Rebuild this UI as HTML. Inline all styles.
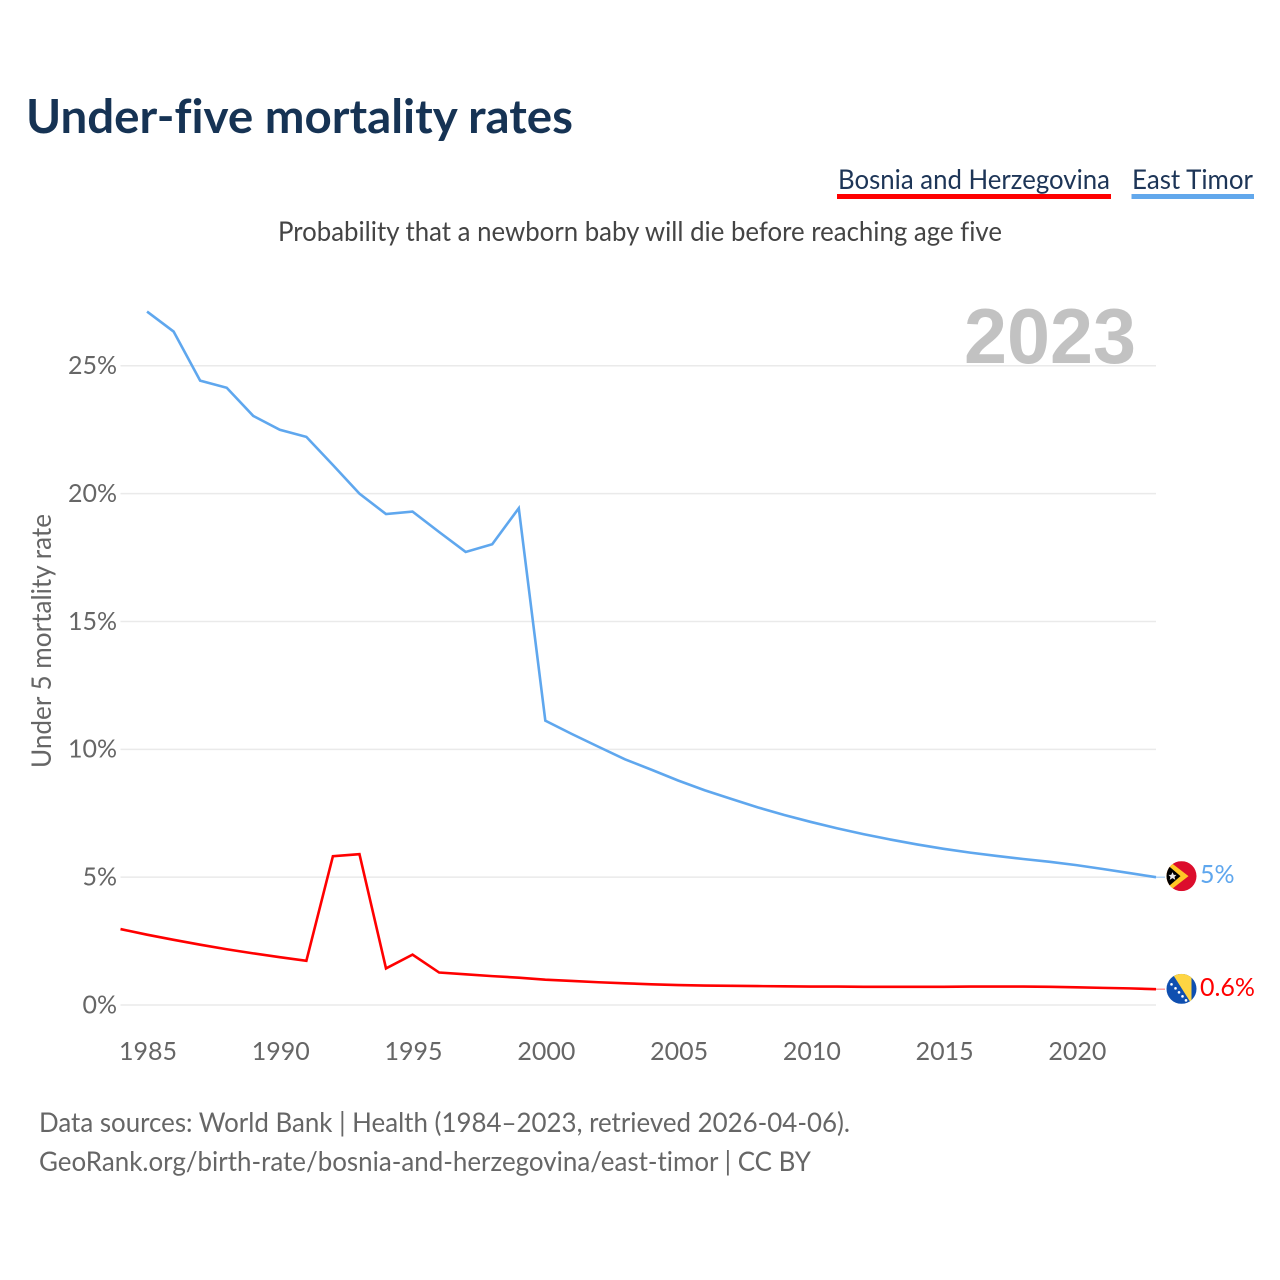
<!DOCTYPE html>
<html lang="en">
<head>
<meta charset="utf-8">
<title>Under-five mortality rates</title>
<style>
html,body{margin:0;padding:0;background:#fff;}
svg{display:block;font-family:"Lato","Carlito","Liberation Sans",sans-serif;font-variant-ligatures:none;}
</style>
</head>
<body>
<svg id="chart" xmlns="http://www.w3.org/2000/svg" width="1280" height="1280" viewBox="0 0 1280 1280">
  <defs>
    <clipPath id="clip-tl"><circle cx="0" cy="0" r="15"/></clipPath>
    <clipPath id="clip-ba"><circle cx="0" cy="0" r="15"/></clipPath>
  </defs>
  <rect width="1280" height="1280" fill="#fff"/>
  <text x="26" y="133" font-size="46.500" font-weight="700" fill="#163354" textLength="547" lengthAdjust="spacingAndGlyphs">Under-five mortality rates</text>

  <g>
    <text x="838" y="189" font-size="27.500" fill="#1d3557" textLength="272" lengthAdjust="spacingAndGlyphs">Bosnia and Herzegovina</text>
    <rect x="837" y="194" width="274" height="5" fill="#ff0000"/>
  </g>
  <g>
    <text x="1132" y="189" font-size="27.500" fill="#1d3557" textLength="121" lengthAdjust="spacingAndGlyphs">East Timor</text>
    <rect x="1131.500" y="194" width="122.500" height="5" fill="#62a8ec"/>
  </g>

  <text x="278" y="241" font-size="27.500" fill="#444" textLength="724" lengthAdjust="spacingAndGlyphs">Probability that a newborn baby will die before reaching age five</text>

  <g id="grid"></g>
  <text x="964" y="363" font-size="78" font-weight="700" fill="#c2c2c2" style='font-family:"Liberation Sans",sans-serif' textLength="172" lengthAdjust="spacingAndGlyphs">2023</text>
  <g id="yticks"></g>
  <g id="xticks"></g>
  <text transform="translate(51,768) rotate(-90)" x="0" y="0" font-size="27" fill="#666" textLength="254" lengthAdjust="spacingAndGlyphs">Under 5 mortality rate</text>

  <g id="series"></g>

  <g id="flag-tl">
    <g clip-path="url(#clip-tl)">
      <rect x="-15" y="-15" width="30" height="30" fill="#dc0d2c"/>
      <polygon points="-15,-17 7,0 -15,17" fill="#ffc726"/>
      <polygon points="-15,-12 -1,0 -15,12" fill="#000"/>
      <polygon points="-9,-4 -7.700,-1.300 -5,-1.300 -7,0.700 -6.200,3.700 -9,2 -11.800,3.700 -11,0.700 -13,-1.300 -10.300,-1.300" fill="#e8e8e8"/>
    </g>
  </g>
  <g id="flag-ba">
    <g clip-path="url(#clip-ba)">
      <rect x="-15" y="-15" width="30" height="30" fill="#0f4fb0"/>
      <polygon points="-9,-15 10,-15 10,15" fill="#fed543"/>
      <polygon points="-15,-8.500 -12.800,-8 -13.500,-6" fill="#fff"/>
      <circle cx="-10" cy="-4.500" r="1.300" fill="#fff"/>
      <circle cx="-6" cy="-0.500" r="1.300" fill="#fff"/>
      <circle cx="-2.500" cy="3.500" r="1.300" fill="#fff"/>
      <circle cx="1" cy="7.500" r="1.300" fill="#fff"/>
      <circle cx="4.500" cy="11.500" r="1.300" fill="#fff"/>
    </g>
  </g>
  <g id="end-labels"></g>

  <text x="39" y="1132" font-size="27.500" fill="#666" textLength="811" lengthAdjust="spacingAndGlyphs">Data sources: World Bank | Health (1984–2023, retrieved 2026-04-06).</text>
  <text x="39" y="1171" font-size="27.500" fill="#666" textLength="772" lengthAdjust="spacingAndGlyphs">GeoRank.org/birth-rate/bosnia-and-herzegovina/east-timor | CC BY</text>
</svg>
<script>
const years = [1984,1985,1986,1987,1988,1989,1990,1991,1992,1993,1994,1995,1996,1997,1998,1999,2000,2001,2002,2003,2004,2005,2006,2007,2008,2009,2010,2011,2012,2013,2014,2015,2016,2017,2018,2019,2020,2021,2022,2023];
const bosnia = [2.97,2.75,2.55,2.36,2.18,2.02,1.87,1.73,5.82,5.9,1.43,1.97,1.27,1.2,1.13,1.07,0.99,0.94,0.89,0.85,0.81,0.78,0.76,0.75,0.74,0.73,0.72,0.72,0.71,0.71,0.71,0.71,0.72,0.72,0.72,0.71,0.69,0.67,0.65,0.62];
const eastTimor = [null,27.12,26.34,24.42,24.14,23.04,22.5,22.22,21.12,20.0,19.2,19.3,18.5,17.72,18.02,19.43,11.12,10.6,10.1,9.61,9.2,8.78,8.4,8.06,7.73,7.43,7.16,6.91,6.68,6.47,6.28,6.11,5.96,5.83,5.71,5.6,5.47,5.32,5.16,5.0];
const yTickValues = [0,5,10,15,20,25];
const yTickLabels = ["0%","5%","10%","15%","20%","25%"];
const xTickValues = [1985,1990,1995,2000,2005,2010,2015,2020];
const xTickLabels = ["1985","1990","1995","2000","2005","2010","2015","2020"];
const endLabels = ["0.6%","5%"];

const NS = "http://www.w3.org/2000/svg";
const xLeft = 120.5, xRight = 1156, yBase = 1005, yTop = 365.8;
function xScale(yr){ return xLeft + (yr - 1984) * (xRight - xLeft) / 39; }
function yScale(v){ return yBase - v * (yBase - yTop) / 25; }
function make(tag, parentId){
  const el = document.createElementNS(NS, tag);
  document.getElementById(parentId).appendChild(el);
  return el;
}

yTickValues.forEach(function(v, i){
  const line = make("line", "grid");
  
  
  line.setAttribute("x1", xLeft);
  line.setAttribute("x2", xRight);
  line.setAttribute("y1", yScale(v));
  line.setAttribute("y2", yScale(v));
  line.setAttribute("stroke", "#eaeaea");
  line.setAttribute("stroke-width", "1.500");
  const t = make("text", "yticks");
  
  
  t.setAttribute("x", 117);
  t.setAttribute("y", yScale(v) + 8.3);
  t.setAttribute("text-anchor", "end");
  t.setAttribute("font-size", "25");
  t.setAttribute("fill", "#666");
  t.textContent = yTickLabels[i];
});

xTickValues.forEach(function(yr, i){
  const t = make("text", "xticks");
  
  
  t.setAttribute("x", xScale(yr) + 1);
  t.setAttribute("y", 1060);
  t.setAttribute("text-anchor", "middle");
  t.setAttribute("font-size", "25");
  t.setAttribute("fill", "#666");
  t.textContent = xTickLabels[i];
});

function pointsFor(values){
  const pts = [];
  values.forEach(function(v, i){
    if (v !== null) pts.push(xScale(years[i]).toFixed(2) + "," + yScale(v).toFixed(2));
  });
  return pts.join(" ");
}

const lineBa = make("polyline", "series");


lineBa.setAttribute("points", pointsFor(bosnia));
lineBa.setAttribute("fill", "none");
lineBa.setAttribute("stroke", "#ff0000");
lineBa.setAttribute("stroke-width", "2.600");

const lineTl = make("polyline", "series");


lineTl.setAttribute("points", pointsFor(eastTimor));
lineTl.setAttribute("fill", "none");
lineTl.setAttribute("stroke", "#5fa7ee");
lineTl.setAttribute("stroke-width", "2.600");

const lastBa = yScale(bosnia[bosnia.length - 1]);
const lastTl = yScale(eastTimor[eastTimor.length - 1]);

const connBa = make("line", "series");


connBa.setAttribute("x1", xRight);
connBa.setAttribute("x2", 1165);
connBa.setAttribute("y1", lastBa);
connBa.setAttribute("y2", lastBa);
connBa.setAttribute("stroke", "#ff0000");
connBa.setAttribute("stroke-opacity", "0.6");
connBa.setAttribute("stroke-width", "1");

const connTl = make("line", "series");


connTl.setAttribute("x1", xRight);
connTl.setAttribute("x2", 1165);
connTl.setAttribute("y1", lastTl);
connTl.setAttribute("y2", lastTl);
connTl.setAttribute("stroke", "#5fa7ee");
connTl.setAttribute("stroke-opacity", "0.7");
connTl.setAttribute("stroke-width", "1");

document.getElementById("flag-ba").setAttribute("transform", "translate(1181.500," + (lastBa - 0.3) + ")");
document.getElementById("flag-tl").setAttribute("transform", "translate(1181.500," + (lastTl - 1) + ")");

const labelBa = make("text", "end-labels");


labelBa.setAttribute("x", 1200);
labelBa.setAttribute("y", lastBa + 7);
labelBa.setAttribute("font-size", "25");
labelBa.setAttribute("fill", "#ff0000");
labelBa.textContent = endLabels[0];

const labelTl = make("text", "end-labels");


labelTl.setAttribute("x", 1200);
labelTl.setAttribute("y", lastTl + 6);
labelTl.setAttribute("font-size", "25");
labelTl.setAttribute("fill", "#5fa7ee");
labelTl.textContent = endLabels[1];
</script>
</body>
</html>
